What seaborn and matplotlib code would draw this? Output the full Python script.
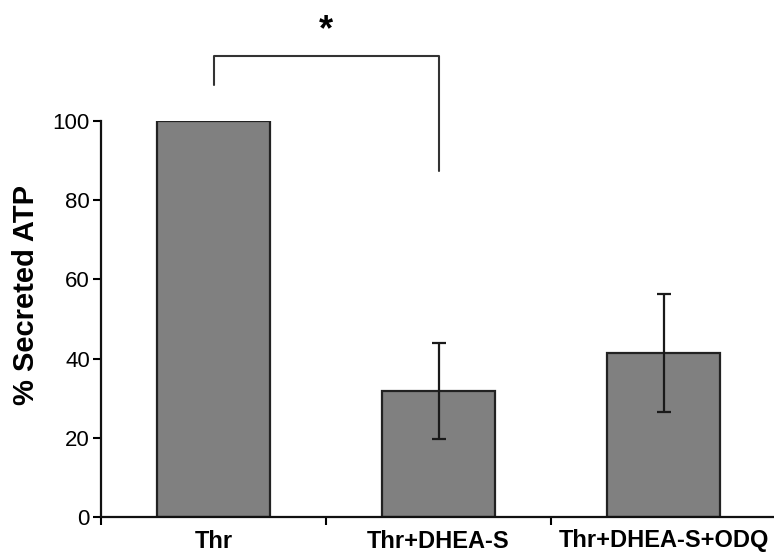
import pandas as pd
import seaborn as sns
import matplotlib.pyplot as plt

conditions = ['Thr', 'Thr+DHEA-S', 'Thr+DHEA-S+ODQ']
secreted_atp = [100, 31.9, 41.5]
atp_err = [0, 12.1, 14.9]

# significance bracket between Thr and Thr+DHEA-S
bracket_top = 116.5
bracket_left_end = 109
bracket_right_end = 87.5

df = pd.DataFrame({'condition': conditions, 'atp': secreted_atp})

sns.set_style('ticks')
plt.rcParams['font.family'] = ['Liberation Sans', 'DejaVu Sans']
plt.rcParams['text.color'] = 'black'
plt.rcParams['axes.labelcolor'] = 'black'
plt.rcParams['xtick.color'] = 'black'
plt.rcParams['ytick.color'] = 'black'

fig = plt.figure(figsize=(7.74, 5.54), dpi=100)
ax = fig.add_axes([101 / 774, 37 / 554, 675 / 774, 396 / 554])

sns.barplot(data=df, x='condition', y='atp', color='#808080', saturation=1,
            width=0.5, edgecolor='#222222', linewidth=1.6, ax=ax)

# only the treated conditions carry error bars
idx = [i for i, e in enumerate(atp_err) if e > 0]
ax.errorbar(idx, [secreted_atp[i] for i in idx], yerr=[atp_err[i] for i in idx],
            fmt='none', ecolor='#1a1a1a', elinewidth=1.6, capsize=5, capthick=1.6)

ax.set_xlim(-0.5, 2.5)
ax.set_ylim(0, 100)
ax.set_yticks([0, 20, 40, 60, 80, 100])
ax.tick_params(axis='y', labelsize=16, length=6, width=1.5, direction='out', pad=2)
ax.set_xticks(range(len(conditions)))
ax.set_xticklabels(conditions, fontsize=17, fontweight='bold')
ax.tick_params(axis='x', which='major', length=0, pad=9)
ax.set_xticks([-0.5, 0.5, 1.5], minor=True)
ax.tick_params(axis='x', which='minor', length=6, width=1.5, direction='out')
ax.set_xlabel('')
ax.set_ylabel('% Secreted ATP', fontsize=21, fontweight='bold')
ax.yaxis.set_label_coords(-0.09, 0.56)

for side in ['top', 'right']:
    ax.spines[side].set_visible(False)
for side in ['left', 'bottom']:
    ax.spines[side].set_linewidth(1.6)
    ax.spines[side].set_color('#111111')

ax.plot([0, 0, 1, 1], [bracket_left_end, bracket_top, bracket_top, bracket_right_end],
        color='#333333', lw=1.5, clip_on=False)
ax.text(0.5, bracket_top + 2, '*', ha='center', va='bottom', fontsize=26,
        fontweight='bold', clip_on=False)

fig.savefig('out.png', dpi=100)
